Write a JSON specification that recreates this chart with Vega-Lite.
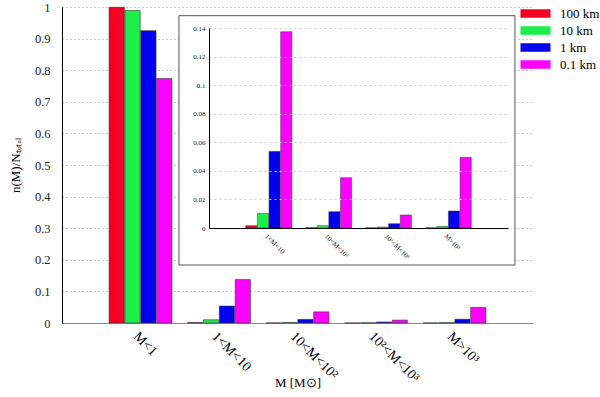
{
  "$schema": "https://vega.github.io/schema/vega-lite/v6.json",
  "width": 471,
  "height": 316,
  "autosize": "none",
  "padding": {"left": 62, "top": 7, "right": 67, "bottom": 74},
  "background": "white",
  "config": {"view": {"stroke": null}, "font": "Liberation Serif"},
  "data": {"values": [
    {"cat": "M<1", "series": "100 km", "value": 0.999},
    {"cat": "M<1", "series": "10 km", "value": 0.989},
    {"cat": "M<1", "series": "1 km", "value": 0.925},
    {"cat": "M<1", "series": "0.1 km", "value": 0.774},
    {"cat": "1<M<10", "series": "100 km", "value": 0.0016},
    {"cat": "1<M<10", "series": "10 km", "value": 0.0102},
    {"cat": "1<M<10", "series": "1 km", "value": 0.0536},
    {"cat": "1<M<10", "series": "0.1 km", "value": 0.1374},
    {"cat": "10<M<10²", "series": "100 km", "value": 0.0002},
    {"cat": "10<M<10²", "series": "10 km", "value": 0.0016},
    {"cat": "10<M<10²", "series": "1 km", "value": 0.0114},
    {"cat": "10<M<10²", "series": "0.1 km", "value": 0.0352},
    {"cat": "10²<M<10³", "series": "100 km", "value": 0.0001},
    {"cat": "10²<M<10³", "series": "10 km", "value": 0.0007},
    {"cat": "10²<M<10³", "series": "1 km", "value": 0.003},
    {"cat": "10²<M<10³", "series": "0.1 km", "value": 0.0091},
    {"cat": "M>10³", "series": "100 km", "value": 0.0001},
    {"cat": "M>10³", "series": "10 km", "value": 0.0011},
    {"cat": "M>10³", "series": "1 km", "value": 0.0119},
    {"cat": "M>10³", "series": "0.1 km", "value": 0.0494}
  ]},
  "layer": [
    {
      "mark": {"type": "bar", "stroke": "#333", "strokeWidth": 0.6},
      "encoding": {
        "x": {"field": "cat", "type": "nominal",
          "scale": {"domain": ["M<1", "1<M<10", "10<M<10²", "10²<M<10³", "M>10³"], "paddingInner": 0.2, "paddingOuter": 0.6},
          "axis": {"title": "M [M⊙]", "labelAngle": 45, "ticks": false, "domainColor": "#888", "labelFontSize": 14, "labelColor": "black", "labelPadding": 6, "titleFontSize": 13, "titleFontWeight": "normal", "titleColor": "black", "titleY": 53, "titleBaseline": "top"}},
        "xOffset": {"field": "series", "type": "nominal", "scale": {"domain": ["100 km", "10 km", "1 km", "0.1 km"], "paddingInner": 0.04}},
        "y": {"field": "value", "type": "quantitative",
          "scale": {"domain": [0, 1], "nice": false},
          "axis": {"title": "n(M)/Nₜₒₜₐₗ", "values": [0, 0.1, 0.2, 0.3, 0.4, 0.5, 0.6, 0.7, 0.8, 0.9, 1], "format": "~g", "grid": true, "gridDash": [1, 3], "gridColor": "#999", "ticks": false, "domainColor": "black", "labelFontSize": 12.5, "labelColor": "#222", "labelPadding": 12, "titleFontSize": 13, "titleFontWeight": "normal", "titleColor": "black", "titlePadding": 12, "zindex": 0}},
        "color": {"field": "series", "type": "nominal",
          "scale": {"domain": ["100 km", "10 km", "1 km", "0.1 km"], "range": ["#f50023", "#1cef4a", "#0000ee", "#ff00ff"]},
          "legend": {"orient": "none", "legendX": 467, "legendY": 0, "title": null, "symbolType": "M-2.5,-0.71H2.5V0.71H-2.5Z", "symbolSize": 144, "symbolStrokeWidth": 0, "symbolOpacity": 1, "labelFontSize": 13, "labelColor": "black", "labelOffset": 18, "rowPadding": 3}}
      }
    },
    {
      "data": {"values": [{}]},
      "mark": {"type": "rect", "fill": "white", "stroke": "#555", "strokeWidth": 1},
      "encoding": {
        "x": {"datum": 1.49, "type": "quantitative", "scale": {"domain": [0, 6], "nice": false}, "axis": null},
        "x2": {"datum": 5.77},
        "y": {"datum": 0.9725, "type": "quantitative", "scale": {"domain": [0, 1], "nice": false}, "axis": null},
        "y2": {"datum": 0.1835}
      }
    },
    {
      "transform": [{"filter": "datum.cat !== 'M<1'"}],
      "mark": {"type": "bar", "stroke": "#333", "strokeWidth": 0.5},
      "encoding": {
        "x": {"field": "cat", "type": "nominal",
          "scale": {"domain": ["1<M<10", "10<M<10²", "10²<M<10³", "M>10³"], "range": [147, 446], "paddingInner": 0.23, "paddingOuter": 0.615},
          "axis": {"orient": "bottom", "offset": -95, "title": null, "labelAngle": 45, "labelFontSize": 7, "labelColor": "#222", "labelPadding": 4, "ticks": false, "domainColor": "black", "zindex": 1}},
        "xOffset": {"field": "series", "type": "nominal", "scale": {"domain": ["100 km", "10 km", "1 km", "0.1 km"], "paddingInner": 0.04}},
        "y": {"field": "value", "type": "quantitative",
          "scale": {"domain": [0, 0.14], "range": [221, 21], "nice": false},
          "axis": {"orient": "left", "offset": -147, "title": null, "values": [0, 0.02, 0.04, 0.06, 0.08, 0.1, 0.12, 0.14], "format": "~g", "labelFontSize": 7, "labelColor": "#222", "labelPadding": 4, "grid": true, "gridDash": [2, 3], "gridColor": "#ccc", "ticks": false, "domainColor": "black", "zindex": 1}},
        "color": {"field": "series", "type": "nominal"}
      }
    }
  ],
  "resolve": {"scale": {"x": "independent", "y": "independent", "xOffset": "independent"}}
}
